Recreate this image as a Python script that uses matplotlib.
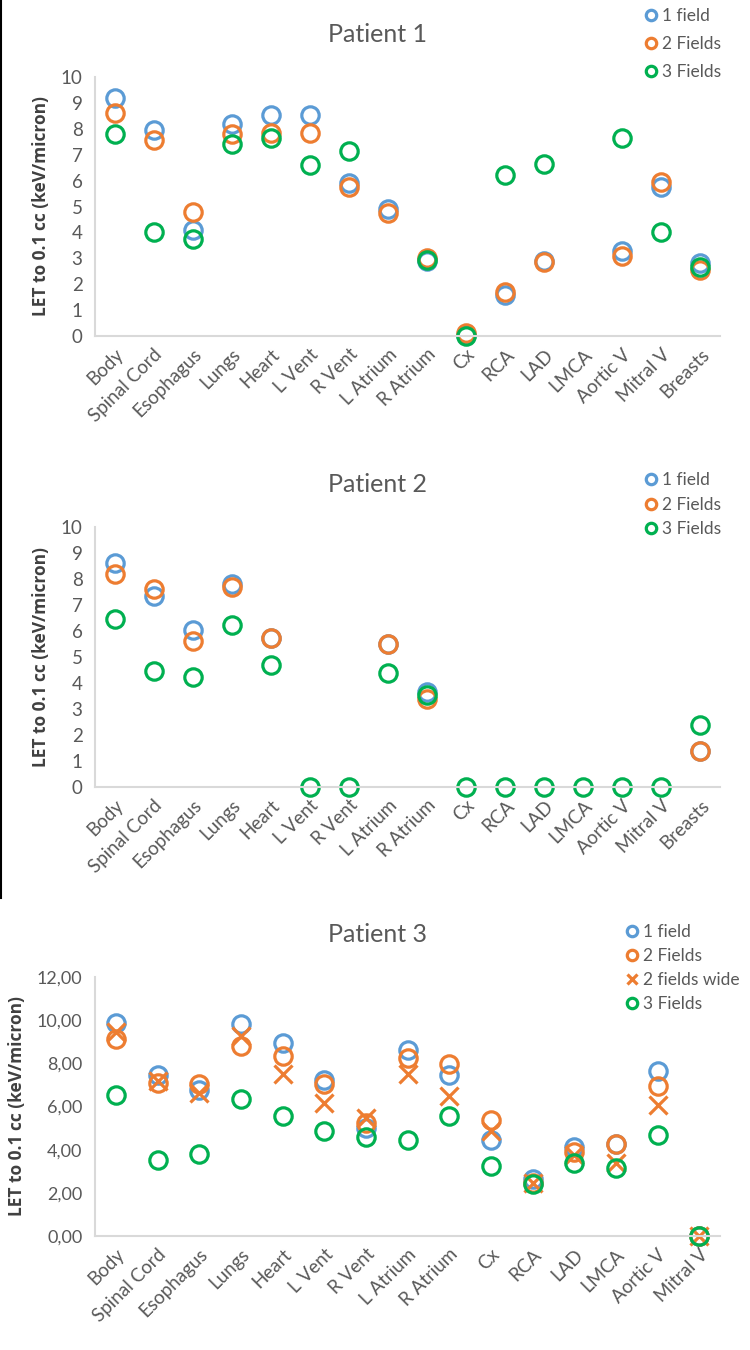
import numpy as np
import matplotlib
matplotlib.use("Agg")
import matplotlib.pyplot as plt
from matplotlib.lines import Line2D

plt.rcParams['font.family'] = ['Lato', 'DejaVu Sans']

nan = np.nan

organs = ["Body", "Spinal Cord", "Esophagus", "Lungs", "Heart", "L Vent", "R Vent",
          "L Atrium", "R Atrium", "Cx", "RCA", "LAD", "LMCA", "Aortic V", "Mitral V", "Breasts"]
organs_p3 = organs[:-1]

# Patient 1
p1_field1 = [9.2, 7.95, 4.1, 8.2, 8.55, 8.55, 5.9, 4.9, 2.9, 0.05, 1.6, 2.9, nan, 3.3, 5.75, 2.8]
p1_fields2 = [8.6, 7.55, 4.8, 7.8, 7.85, 7.85, 5.75, 4.75, 3.0, 0.1, 1.7, 2.85, nan, 3.1, 5.95, 2.55]
p1_fields3 = [7.8, 4.0, 3.75, 7.4, 7.65, 6.6, 7.15, nan, 2.95, 0.0, 6.2, 6.65, nan, 7.65, 4.0, 2.65]

# Patient 2
p2_field1 = [8.6, 7.35, 6.05, 7.8, 5.75, nan, nan, 5.5, 3.65, nan, nan, nan, nan, nan, nan, 1.4]
p2_fields2 = [8.2, 7.6, 5.6, 7.7, 5.75, nan, nan, 5.5, 3.4, nan, nan, nan, nan, nan, nan, 1.4]
p2_fields3 = [6.45, 4.45, 4.25, 6.25, 4.7, 0.0, 0.0, 4.4, 3.55, 0.0, 0.0, 0.0, 0.0, 0.0, 0.0, 2.4]

# Patient 3
p3_field1 = [9.87, 7.45, 6.75, 9.83, 8.94, 7.25, 4.99, 8.6, 7.47, 4.45, 2.65, 4.14, 4.25, 7.65, 0.0]
p3_fields2 = [9.12, 7.1, 7.05, 8.8, 8.35, 7.05, 5.25, 8.25, 7.96, 5.38, 2.47, 3.91, 4.25, 6.95, 0.0]
p3_fields2_wide = [9.45, 7.2, 6.62, 9.28, 7.5, 6.15, 5.46, 7.52, 6.5, 4.85, 2.47, 3.76, 3.37, 6.05, 0.0]
p3_fields3 = [6.55, 3.53, 3.8, 6.35, 5.55, 4.88, 4.6, 4.45, 5.55, 3.25, 2.42, 3.38, 3.14, 4.68, 0.0]

BLUE = "#5B9BD5"
ORANGE = "#ED7D31"
GREEN = "#00B050"
GRAY = "#595959"

W, H = 750, 1350
fig = plt.figure(figsize=(W / 100, H / 100), dpi=100)


def make_axes(top_px, bottom_px):
    return fig.add_axes([95 / W, 1 - bottom_px / H, 625 / W, (bottom_px - top_px) / H])


def style(ax, cats, ymax, step, label_x, fmt=None):
    x = np.arange(len(cats))
    ax.set_xlim(-0.5, len(cats) - 0.5)
    ax.set_ylim(0, ymax)
    ax.set_xticks(x)
    ax.set_xticklabels(cats, rotation=45, ha="right", rotation_mode="anchor",
                       fontsize=13.5, color=GRAY)
    yt = np.arange(0, ymax + 0.001, step)
    ax.set_yticks(yt)
    if fmt:
        ax.set_yticklabels([fmt(v) for v in yt], fontsize=13, color=GRAY)
    else:
        ax.set_yticklabels([f"{v:g}" for v in yt], fontsize=13.5, color=GRAY)
    ax.tick_params(length=0, pad=9)
    ax.tick_params(axis="x", pad=7)
    for s in ["top", "right"]:
        ax.spines[s].set_visible(False)
    for s in ["left", "bottom"]:
        ax.spines[s].set_color("#D9D9D9")
        ax.spines[s].set_linewidth(1.5)
    ax.set_ylabel("LET to 0.1 cc (keV/micron)", fontsize=12.5, color="#404040",
                  fontweight="bold", family=["Open Sans", "DejaVu Sans"])
    ax.yaxis.set_label_coords(label_x, 0.5)
    ax.patch.set_alpha(0)


def circles(ax, vals, color, label):
    x = np.arange(len(vals))
    ax.plot(x, vals, linestyle="none", marker="o", markersize=12.5, markerfacecolor="none",
            markeredgecolor=color, markeredgewidth=2.3, label=label, clip_on=False)


def crosses(ax, vals, color, label):
    x = np.arange(len(vals))
    ax.plot(x, vals, linestyle="none", marker="x", markersize=12.5,
            markeredgecolor=color, markeredgewidth=2.3, label=label, clip_on=False)


def legend(ax, x_px, y_px, spacing):
    ax.legend(loc="upper left", bbox_to_anchor=(x_px / W, 1 - y_px / H),
              bbox_transform=fig.transFigure, frameon=False, fontsize=12.5,
              markerscale=0.6, handlelength=0.6, handletextpad=0.3,
              labelspacing=spacing, borderpad=0, borderaxespad=0, labelcolor=GRAY)


# Patient 1
ax1 = make_axes(77, 336)
circles(ax1, p1_field1, BLUE, "1 field")
circles(ax1, p1_fields2, ORANGE, "2 Fields")
circles(ax1, p1_fields3, GREEN, "3 Fields")
style(ax1, organs, 10, 1, -0.072)
legend(ax1, 646, 8, 0.7)
fig.text(377 / W, 1 - 35 / H, "Patient 1", ha="center", va="center", fontsize=18, color=GRAY)

# Patient 2
ax2 = make_axes(527, 787)
circles(ax2, p2_field1, BLUE, "1 field")
circles(ax2, p2_fields2, ORANGE, "2 Fields")
circles(ax2, p2_fields3, GREEN, "3 Fields")
style(ax2, organs, 10, 1, -0.072)
legend(ax2, 646, 472, 0.5)
fig.text(377 / W, 1 - 485 / H, "Patient 2", ha="center", va="center", fontsize=18, color=GRAY)

# Patient 3
ax3 = make_axes(977, 1236)
circles(ax3, p3_field1, BLUE, "1 field")
circles(ax3, p3_fields2, ORANGE, "2 Fields")
crosses(ax3, p3_fields2_wide, ORANGE, "2 fields wide")
circles(ax3, p3_fields3, GREEN, "3 Fields")
style(ax3, organs_p3, 12, 2, -0.11, fmt=lambda v: f"{v:.2f}".replace(".", ","))
legend(ax3, 627, 924, 0.46)
fig.text(377 / W, 1 - 935 / H, "Patient 3", ha="center", va="center", fontsize=18, color=GRAY)

# left border line of the pasted panels
fig.add_artist(Line2D([0.5 / W, 0.5 / W], [1, 1 - 898 / H], color="black", linewidth=1.5))

fig.savefig("out.png", dpi=100)
